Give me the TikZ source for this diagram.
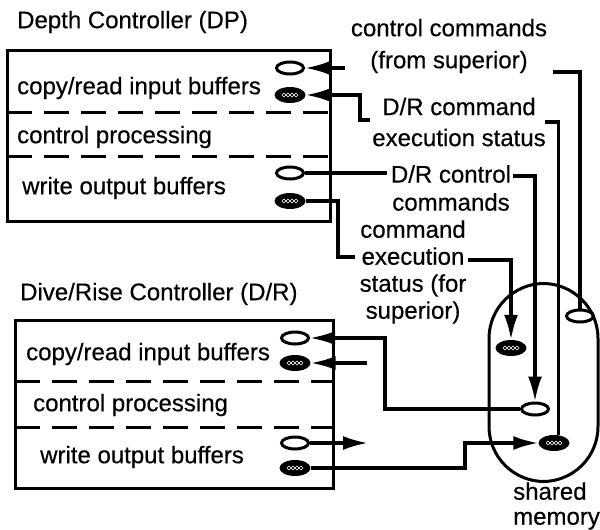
\documentclass[tikz,border=0pt]{standalone}
\usepackage{fontspec}
\setmainfont{Liberation Sans}[FakeBold=0.4]
\usetikzlibrary{arrows.meta,shapes.geometric}
\begin{document}
\begin{tikzpicture}[x=1pt,y=-1pt,
  lbl/.style={font=\fontsize{24}{30}\selectfont, inner sep=0pt},
  unit/.style={draw, line width=3pt, inner sep=0pt},
  sep/.style={line width=3pt, dash pattern=on 25pt off 12pt},
  wire/.style={line width=3.2pt},
  arr/.style={wire, -{Latex[length=25pt,width=14pt]}},
  obuf/.style={ellipse, draw, line width=3pt, minimum width=27pt,
    minimum height=12pt, inner sep=0pt},
  fbuf/.style={ellipse, fill=black, minimum width=31pt, minimum height=16pt,
    inner sep=0pt,
    path picture={
      \draw[white, line width=0.6pt]
        ([xshift=-8pt]path picture bounding box.center)
        -- ++(2,-2) -- ++(2,2) -- ++(2,-2) -- ++(2,2)
        -- ++(2,-2) -- ++(2,2) -- ++(2,-2) -- ++(2,2);
      \draw[white, line width=0.6pt]
        ([xshift=-8pt]path picture bounding box.center)
        -- ++(2,2) -- ++(2,-2) -- ++(2,2) -- ++(2,-2)
        -- ++(2,2) -- ++(2,-2) -- ++(2,2) -- ++(2,-2);
    }},
]
\useasboundingbox (0,0) rectangle (600,530);

% ---------- Depth Controller ----------
\node[lbl, anchor=west] (dptitle) at (17,22) {Depth Controller (DP)};
\node[unit, minimum width=323pt, minimum height=171pt] (dp) at (168.5,135.5) {};
\draw[sep] (7,112) -- (330,112);
\draw[sep] (7,156) -- (330,156);
\node[lbl, anchor=west] (dp1) at (17,88) {copy/read input buffers};
\node[lbl, anchor=west] (dp2) at (17,137) {control processing};
\node[lbl, anchor=west] (dp3) at (22,188) {write output buffers};
\node[obuf] (dpin)    at (290,68)  {};
\node[fbuf] (dpst)    at (290,95)  {};
\node[obuf] (dpout)   at (290,173) {};
\node[fbuf] (dpoutst) at (290,201) {};

% ---------- Dive/Rise Controller ----------
\node[lbl, anchor=west] (drtitle) at (20,294) {Dive/Rise Controller (D/R)};
\node[unit, minimum width=318pt, minimum height=168pt] (dr) at (174,404) {};
\draw[sep] (15,381) -- (333,381);
\draw[sep] (15,427) -- (333,427);
\node[lbl, anchor=west] (dr1) at (26,354) {copy/read input buffers};
\node[lbl, anchor=west] (dr2) at (33,405) {control processing};
\node[lbl, anchor=west] (dr3) at (40,457) {write output buffers};
\node[obuf] (drin)    at (295,338) {};
\node[fbuf] (drinst)  at (295,363) {};
\node[obuf] (drout)   at (295,443) {};
\node[fbuf] (droutst) at (295,468) {};

% ---------- shared memory ----------
\node[draw, line width=3pt, rounded corners=55pt, minimum width=109pt,
      minimum height=198pt, inner sep=0pt] (mem) at (543.5,382.5) {};
\node[fbuf] (mA) at (511,348) {};
\node[obuf] (mB) at (535,409) {};
\node[fbuf] (mC) at (554,443) {};
\node[obuf] (mD) at (580,316) {};
\node[lbl, anchor=west, align=left, font=\fontsize{24}{25}\selectfont]
  (tsm) at (513,506) {shared\\memory};

% ---------- labels ----------
\node[lbl, align=center, font=\fontsize{24}{32}\selectfont]
  (tcc) at (449,46) {control commands\\(from superior)};
\node[lbl, align=center, font=\fontsize{24}{31}\selectfont]
  (tds) at (459,122) {D/R command\\execution status};
\node[lbl, align=center, font=\fontsize{24}{28}\selectfont]
  (tdc) at (451,188) {D/R control\\commands};
\node[lbl, align=center, font=\fontsize{24}{27}\selectfont]
  (tces) at (413,272) {command\\execution\\status (for\\superior)};

% ---------- connectors ----------
\coordinate (ccEnd)  at (345,68);
\coordinate (ccLead) at (553,72);
\draw[arr]  (ccEnd) -- (dpin);
\draw[wire] (ccLead) -| (mD.north);

\coordinate (dsLead) at (370,120);
\coordinate (dsTail) at (545,122);
\draw[arr]  (dsLead) -- (360,120) -- (360,95) -- (dpst.east);
\draw[wire] (dsTail) -| (mC.60);

\coordinate (dcLead) at (387,173);
\coordinate (dcTail) at (513,176);
\draw[wire] (dpout) -- (dcLead);
\draw[arr]  (dcTail) -| (mB.north);

\coordinate (ceLead) at (355,257);
\coordinate (ceTail) at (468,260);
\draw[wire] (dpoutst.east) -| (338,257) -- (ceLead);
\draw[arr]  (ceTail) -| (mA.north);

\draw[arr] (mB.west) -| (385,338) -- (drin.east);
\coordinate (isEnd) at (367,363);
\draw[arr] (isEnd) -- (drinst);
\coordinate (osEnd) at (368,443);
\draw[arr] (drout) -- (osEnd);
\draw[arr] (droutst.east) -- (465,468) |- (mC.west);
\end{tikzpicture}
\end{document}
